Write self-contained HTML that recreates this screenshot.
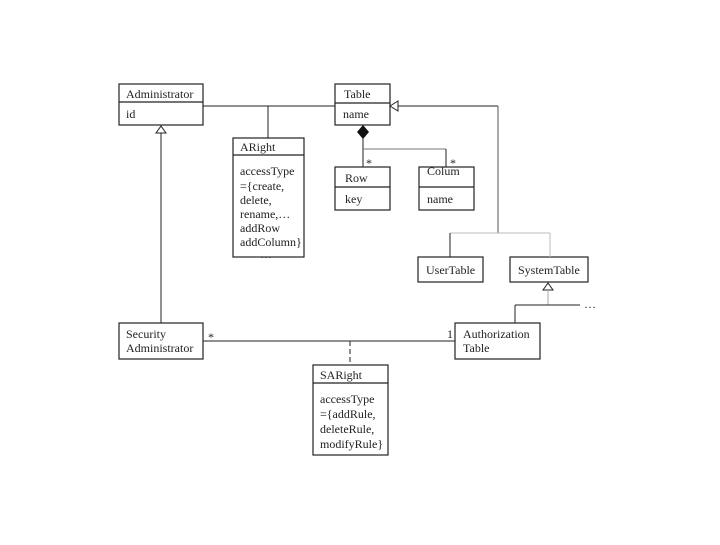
<!DOCTYPE html>
<html><head><style>
body{margin:0;background:#fff;}
svg text{font-family:"Liberation Serif",serif;fill:#222;}
</style></head><body>
<svg width="720" height="540" viewBox="0 0 720 540" xmlns="http://www.w3.org/2000/svg">
<g fill="#fff" stroke="#222" stroke-width="1.2">
<rect x="119" y="84" width="84" height="41"/><line x1="119" y1="102" x2="203" y2="102"/>
<rect x="335" y="84" width="55" height="41"/><line x1="335" y1="103" x2="390" y2="103"/>
<rect x="233" y="138" width="71" height="119"/><line x1="233" y1="155" x2="304" y2="155"/>
<rect x="335" y="167" width="55" height="43"/><line x1="335" y1="187" x2="390" y2="187"/>
<rect x="419" y="167" width="55" height="43"/><line x1="419" y1="187" x2="474" y2="187"/>
<rect x="418" y="257" width="65" height="25"/>
<rect x="510" y="257" width="78" height="25"/>
<rect x="455" y="323" width="85" height="36"/>
<rect x="119" y="323" width="84" height="36"/>
<rect x="313" y="365" width="75" height="90"/><line x1="313" y1="383" x2="388" y2="383"/>
</g>
<g fill="none" stroke="#222" stroke-width="1">
<line x1="203" y1="106" x2="335" y2="106"/>
<line x1="268" y1="106" x2="268" y2="138"/>
<line x1="161" y1="133" x2="161" y2="323"/>
<polygon points="161,126 156,133 166,133" fill="#fff"/>
<polygon points="390,106 398,101 398,111" fill="#fff"/>
<line x1="398" y1="106" x2="498" y2="106"/>
<line x1="498" y1="106" x2="498" y2="233" stroke="#555"/>
<line x1="450" y1="233" x2="550" y2="233" stroke="#bbb"/>
<line x1="450" y1="233" x2="450" y2="257"/>
<line x1="550" y1="233" x2="550" y2="257" stroke="#bbb"/>
<line x1="363" y1="138" x2="363" y2="167"/>
<line x1="363" y1="149" x2="446" y2="149" stroke="#777"/>
<line x1="446" y1="149" x2="446" y2="167"/>
<polygon points="548,283 543,290 553,290" fill="#fff"/>
<line x1="548" y1="290" x2="548" y2="305" stroke="#aaa"/>
<line x1="515" y1="305" x2="580" y2="305"/>
<line x1="515" y1="305" x2="515" y2="323"/>
<line x1="203" y1="341" x2="455" y2="341"/>
<line x1="350" y1="341" x2="350" y2="365" stroke-dasharray="5,3"/>
</g>
<polygon points="363,125 369,132 363,139 357,132" fill="#111"/>
<g font-size="12">
<text x="126" y="98">Administrator</text><text x="126" y="118">id</text>
<text x="344" y="98">Table</text><text x="343" y="118">name</text>
<text x="240" y="151">ARight</text>
<text x="240" y="175">accessType</text><text x="240" y="190">={create,</text>
<text x="240" y="204">delete,</text><text x="240" y="218">rename,…</text>
<text x="240" y="232">addRow</text><text x="240" y="246">addColumn}</text>
<text x="260" y="258">…</text>
<text x="345" y="182">Row</text><text x="345" y="203">key</text>
<text x="427" y="175">Colum</text><text x="427" y="203">name</text>
<text x="426" y="274">UserTable</text><text x="518" y="274">SystemTable</text>
<text x="584" y="308">…</text>
<text x="126" y="338">Security</text><text x="126" y="352">Administrator</text>
<text x="463" y="338">Authorization</text><text x="463" y="352">Table</text>
<text x="208" y="341">*</text><text x="447" y="338">1</text>
<text x="366" y="167">*</text><text x="450" y="167">*</text>
<text x="320" y="379">SARight</text>
<text x="320" y="403">accessType</text><text x="320" y="418">={addRule,</text>
<text x="320" y="433">deleteRule,</text><text x="320" y="448">modifyRule}</text>
</g>
</svg>
</body></html>
